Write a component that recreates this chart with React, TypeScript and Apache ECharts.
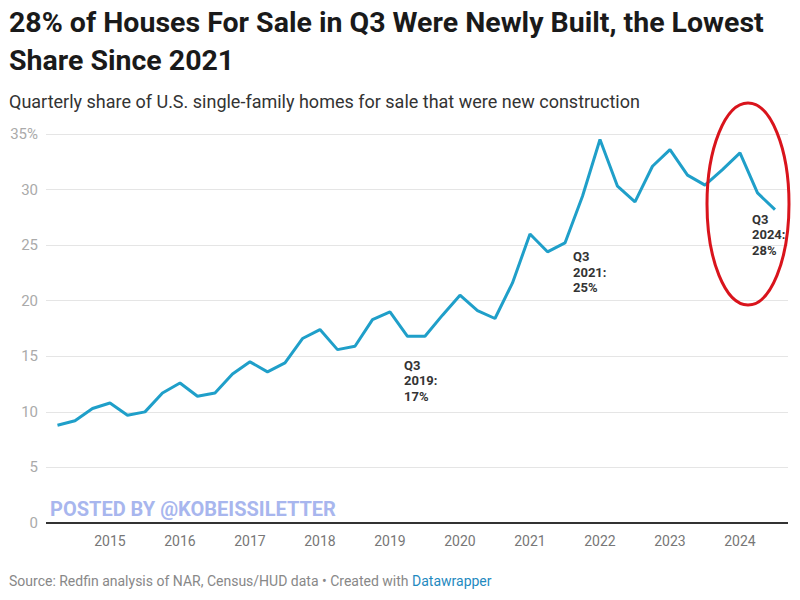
import React, { useEffect, useRef } from "react";
import * as echarts from "echarts";

const quarters: number[] = [
  2014.25, 2014.5, 2014.75,
  2015.0, 2015.25, 2015.5, 2015.75,
  2016.0, 2016.25, 2016.5, 2016.75,
  2017.0, 2017.25, 2017.5, 2017.75,
  2018.0, 2018.25, 2018.5, 2018.75,
  2019.0, 2019.25, 2019.5, 2019.75,
  2020.0, 2020.25, 2020.5, 2020.75,
  2021.0, 2021.25, 2021.5, 2021.75,
  2022.0, 2022.25, 2022.5, 2022.75,
  2023.0, 2023.25, 2023.5, 2023.75,
  2024.0, 2024.25, 2024.5,
];

const shareNew: number[] = [
  8.8, 9.2, 10.3,
  10.8, 9.7, 10.0, 11.7,
  12.6, 11.4, 11.7, 13.4,
  14.5, 13.6, 14.4, 16.6,
  17.4, 15.6, 15.9, 18.3,
  19.0, 16.8, 16.8, 18.7,
  20.5, 19.1, 18.4, 21.6,
  26.0, 24.4, 25.2, 29.4,
  34.5, 30.3, 28.9, 32.1,
  33.6, 31.3, 30.4, 31.8,
  33.3, 29.7, 28.2,
];

const yearTicks: number[] = [2015, 2016, 2017, 2018, 2019, 2020, 2021, 2022, 2023, 2024];
const yTicks: number[] = [0, 5, 10, 15, 20, 25, 30, 35];

const annotations = [
  { x: 2019.5, y: 16.8, text: "Q3\n2019:\n17%", dx: -21, dy: 21 },
  { x: 2021.5, y: 25.2, text: "Q3\n2021:\n25%", dx: 8, dy: 6 },
  { x: 2024.5, y: 28.2, text: "Q3\n2024:\n28%", dx: -23, dy: 2 },
];

const titleText = "28% of Houses For Sale in Q3 Were Newly Built, the Lowest\nShare Since 2021";
const subtitleText = "Quarterly share of U.S. single-family homes for sale that were new construction";
const sourceText = "Source: Redfin analysis of NAR, Census/HUD data • Created with ";
const sourceLink = "Datawrapper";
const watermarkText = "POSTED BY @KOBEISSILETTER";

export default function App() {
  const ref = useRef<HTMLDivElement>(null);
  useEffect(() => {
    if (!ref.current) return;
    const chart = echarts.init(ref.current, undefined, { renderer: "svg" });
    const FONT = "Roboto, 'Noto Sans', sans-serif";
    chart.setOption({
      animation: false,
      backgroundColor: "#ffffff",
      textStyle: { fontFamily: FONT },
      title: [
        {
          text: titleText,
          left: 9,
          top: 3,
          padding: 0,
          textStyle: { fontSize: 28.5, fontWeight: "bold", color: "#1a1a1a", lineHeight: 38, fontFamily: FONT },
        },
        {
          text: subtitleText,
          left: 9,
          top: 91,
          padding: 0,
          textStyle: { fontSize: 18, fontWeight: "normal", color: "#333333", lineHeight: 20, fontFamily: FONT },
        },
        {
          text: `{a|${sourceText}}{b|${sourceLink}}`,
          left: 9,
          top: 573,
          padding: 0,
          textStyle: {
            fontFamily: FONT,
            fontWeight: "normal",
            rich: {
              a: { fontSize: 14, color: "#888888", fontWeight: "normal", lineHeight: 16, fontFamily: FONT },
              b: { fontSize: 14, color: "#1f8ac0", fontWeight: "normal", lineHeight: 16, fontFamily: FONT },
            },
          },
        },
        {
          text: watermarkText,
          left: 50,
          top: 498,
          padding: 0,
          textStyle: { fontSize: 20, fontWeight: "bold", color: "#a8b6ee", lineHeight: 22, fontFamily: FONT },
        },
      ],
      grid: { left: 46, right: 12, top: 134, bottom: 77, containLabel: false },
      xAxis: {
        type: "value",
        min: 2014.086,
        max: 2024.686,
        axisLine: { show: false },
        axisTick: { show: false },
        splitLine: { show: false },
        axisLabel: {
          customValues: yearTicks,
          color: "#777777",
          fontSize: 14,
          margin: 11,
          formatter: (v: number) => String(Math.round(v)),
        },
      },
      yAxis: {
        type: "value",
        min: 0,
        max: 35,
        interval: 5,
        axisLine: { show: false },
        axisTick: { show: false },
        splitLine: { show: true, lineStyle: { color: "#e5e5e5", width: 1 } },
        axisLabel: {
          customValues: yTicks,
          color: "#aaaaaa",
          fontSize: 15,
          margin: 8,
          formatter: (v: number) => (v === 35 ? "35%" : String(v)),
        },
      },
      series: [
        {
          type: "line",
          data: quarters.map((q, i) => [q, shareNew[i]]),
          symbol: "none",
          lineStyle: { color: "#1f9fc9", width: 3 },
          z: 5,
          markLine: {
            silent: true,
            symbol: "none",
            label: { show: false },
            lineStyle: { color: "#333333", width: 2, type: "solid" },
            data: [{ yAxis: 0 }],
          },
          markPoint: {
            symbol: "circle",
            symbolSize: 0,
            data: annotations.map((a) => ({
              coord: [a.x, a.y],
              label: {
                show: true,
                formatter: a.text,
                position: [a.dx, a.dy],
                align: "left",
                verticalAlign: "top",
                fontSize: 13,
                fontWeight: "bold",
                color: "#333333",
                lineHeight: 15.5,
                fontFamily: FONT,
              },
            })),
          },
        },
      ],
      graphic: [
        {
          type: "ellipse",
          shape: { cx: 748, cy: 204, rx: 41, ry: 101 },
          style: { fill: "none", stroke: "#d9141c", lineWidth: 3 },
          z: 100,
        },
      ],
    });
    return () => chart.dispose();
  }, []);
  return <div ref={ref} style={{ width: 800, height: 600, position: "absolute", left: 0, top: 0 }} />;
}
